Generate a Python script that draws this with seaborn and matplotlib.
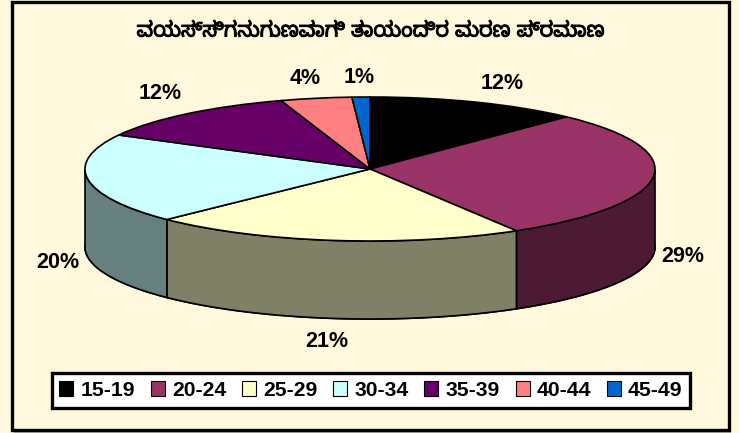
import numpy as np
import seaborn as sns
import matplotlib.pyplot as plt
import matplotlib.patheffects as pe
from matplotlib.patches import Rectangle

age_groups = ['15-19', '20-24', '25-29', '30-34', '35-39', '40-44', '45-49']
shares = [12, 29, 21, 20, 12, 4, 1]
top_colors = ['#000000', '#993366', '#FFFFCC', '#CCFFFF', '#660066', '#FF8080', '#0066CC']
side_colors = ['#000000', '#4D1A33', '#808066', '#668080', '#330033', '#804040', '#003366']
title = 'ವಯಸ್ಸಿಗನುಗುಣವಾಗಿ ತಾಯಂದಿರ ಮರಣ ಪ್ರಮಾಣ'

# offset of each % label from the rim of its slice, in pixels
label_offsets = [(26, -19), (30, 80), (-7, 101), (-30, 83), (-27, -20), (-11, -20), (-2, -20)]

W, H = 739, 433
CX, CY, RX, RY, DEPTH = 370, 169, 285, 72, 78
BG = '#FFF8DC'

sns.set_theme(style='white')
plt.rcParams['font.family'] = ['Liberation Sans', 'DejaVu Sans']

fig = plt.figure(figsize=(W / 100, H / 100), dpi=100, facecolor=BG)
# grey drop shadow, then the black frame
fig.add_artist(Rectangle((14 / W, 1 - 432.5 / H), 717 / W, 430 / H, transform=fig.transFigure,
                         facecolor='#B0B0A0', edgecolor='none', zorder=-2))
fig.add_artist(Rectangle((11.5 / W, 1 - 429.5 / H), 717 / W, 428 / H, transform=fig.transFigure,
                         facecolor=BG, edgecolor='black', linewidth=2.4, zorder=-1))
ax = fig.add_axes([0, 0, 1, 1])
ax.patch.set_alpha(0)

# bottom of the disc first, then the walls, then the top face
depth = DEPTH / RY
ax.pie(shares, colors=side_colors, startangle=90, counterclock=False, center=(0, -depth),
       wedgeprops={'edgecolor': 'black', 'linewidth': 1.2, 'zorder': 1})
wedges, _ = ax.pie(shares, colors=sns.color_palette(top_colors), startangle=90, counterclock=False,
                   wedgeprops={'edgecolor': 'black', 'linewidth': 1.2, 'zorder': 3})

for wedge, side in zip(wedges, side_colors):
    t1, t2 = wedge.theta1 % 360, wedge.theta2 % 360
    if t2 <= t1:
        t2 += 360
    for start, end in [(180, 360), (540, 720)]:
        lo, hi = max(t1, start), min(t2, end)
        if hi <= lo:
            continue
        t = np.radians(np.linspace(lo, hi, 80))
        xs = np.concatenate([np.cos(t), np.cos(t[::-1])])
        ys = np.concatenate([np.sin(t), np.sin(t[::-1]) - depth])
        ax.fill(xs, ys, facecolor=side, edgecolor='black', linewidth=1.2, zorder=2)

# squash the circle into the tilted ellipse
ax.set_aspect('auto')
ax.set_xlim(-CX / RX, (W - CX) / RX)
ax.set_ylim(-(H - CY) / RY, CY / RY)
ax.axis('off')

for wedge, share, (dx, dy) in zip(wedges, shares, label_offsets):
    mid = np.radians((wedge.theta1 + wedge.theta2) / 2)
    ax.annotate(f'{share}%', (np.cos(mid), np.sin(mid)), xytext=(dx * 0.72, -dy * 0.72),
                textcoords='offset points', ha='center', va='center',
                fontsize=15.5, fontweight='bold', color='black', zorder=5)

fig.text(371 / W, 1 - 31 / H, title, ha='center', va='center', fontsize=15, color='black',
         family=['Noto Sans Kannada', 'Lohit Kannada', 'Noto Sans', 'DejaVu Sans'],
         path_effects=[pe.withStroke(linewidth=0.7, foreground='black')])

leg = ax.legend(wedges, age_groups, ncol=7, loc='center', bbox_to_anchor=(371 / W, 1 - 390.5 / H),
                bbox_transform=fig.transFigure, frameon=True, fancybox=False, facecolor='white',
                edgecolor='black', framealpha=1, handlelength=0.66, handleheight=0.66,
                handletextpad=0.33, columnspacing=0.76, borderpad=0.36, borderaxespad=0,
                labelcolor='black', prop={'weight': 'bold', 'size': 15.2})
leg.get_frame().set_linewidth(2.4)
for handle in leg.legend_handles:
    handle.set_linewidth(0.8)

fig.savefig('out.png', dpi=100)
